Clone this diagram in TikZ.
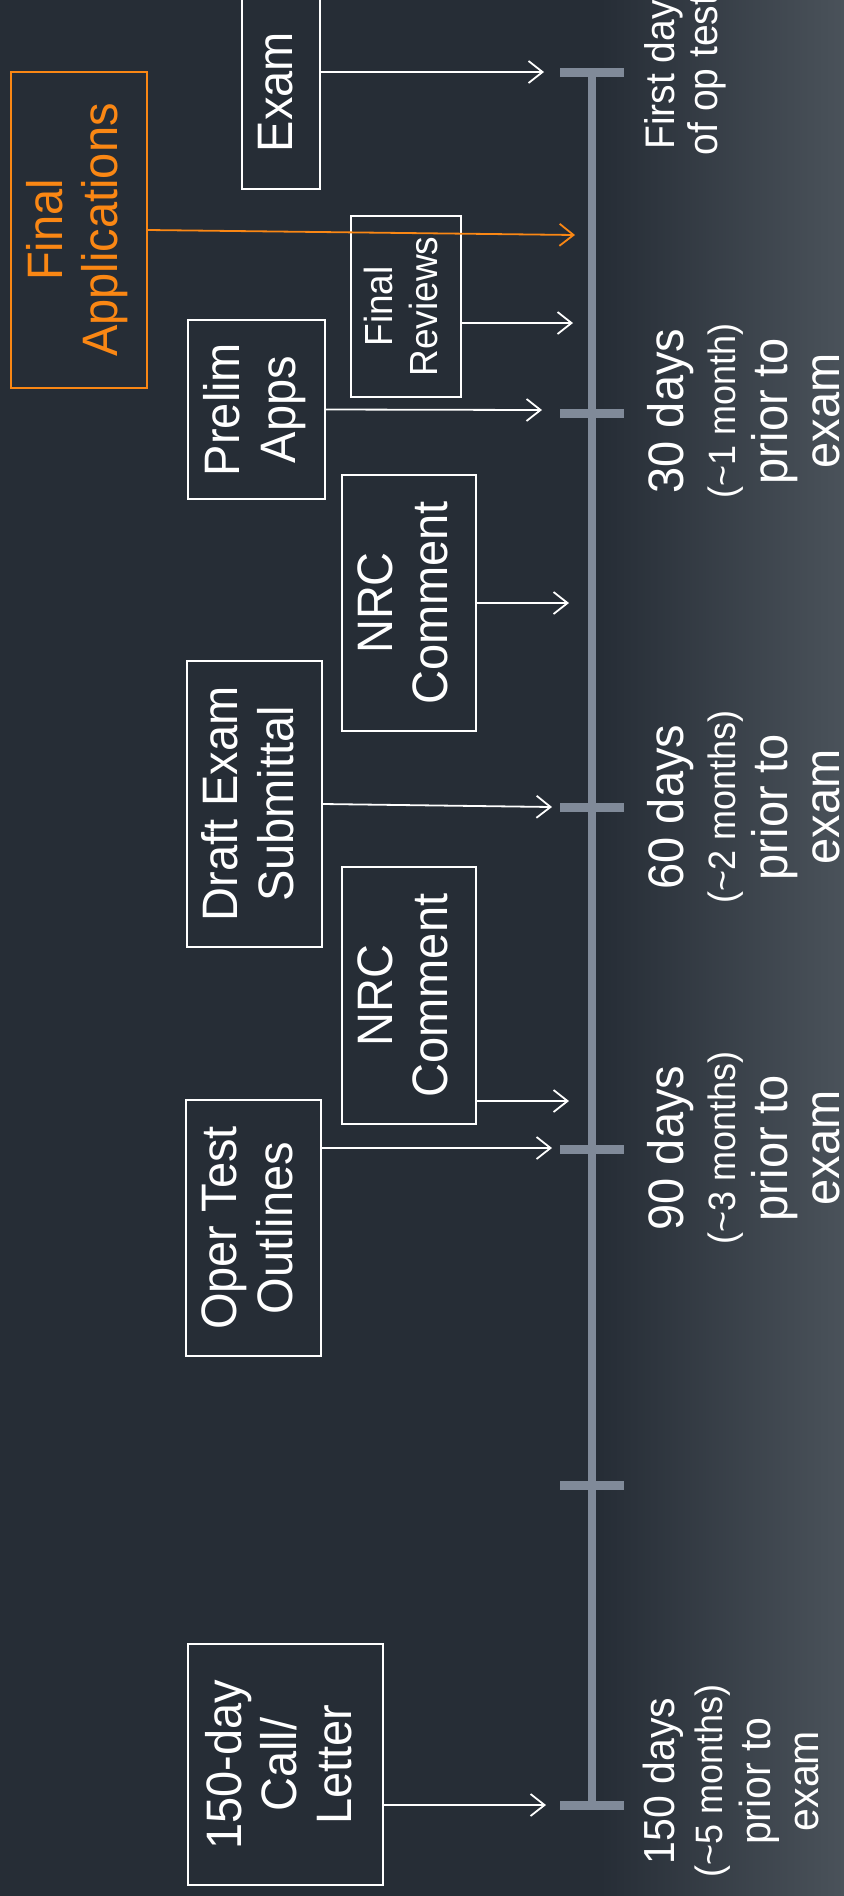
\documentclass[tikz,border=0pt]{standalone}
\usepackage{fontspec}
\setmainfont{Liberation Sans}
\usetikzlibrary{arrows.meta}

\definecolor{bgdark}{RGB}{38,45,54}
\definecolor{bglight}{RGB}{74,82,90}
\definecolor{axisgray}{RGB}{128,138,153}
\definecolor{accent}{RGB}{250,135,20}

% rotated, centred block of lines (reads bottom to top), glyphs slightly tall
\newcommand{\vtext}[1]{\rotatebox{90}{\scalebox{1}[1.06]{\begin{tabular}{@{}c@{}}#1\end{tabular}}}}
\newcommand{\paren}[1]{{\fontsize{18}{24.5}\selectfont #1}}

\tikzset{
  box/.style={draw=white, line width=1pt, text=white, inner sep=0pt,
              font=\fontsize{23.5}{26}\selectfont},
  accentbox/.style={box, draw=accent, text=accent, line width=0.8pt},
  link/.style={draw=white, line width=0.9pt,
               -{Straight Barb[length=7pt,width=11pt,line width=0.9pt]}},
  accentlink/.style={link, draw=accent},
  tickmark/.style={rectangle, fill=axisgray, inner sep=0pt,
                   minimum width=32pt, minimum height=4.5pt},
  axis/.style={draw=axisgray, line width=3.75pt},
  when/.style={text=white, inner sep=0pt,
               font=\fontsize{23.5}{24.5}\selectfont},
}

\begin{document}
\begin{tikzpicture}[x=0.5pt, y=-0.5pt]
  \useasboundingbox (0,0) rectangle (844,1896);
  % slide background with a soft gradient towards the right edge
  \fill[bgdark] (0,0) rectangle (844,1896);
  \shade[left color=bgdark, right color=bglight] (600,0) rectangle (844,1896);

  % time axis with its tick marks
  \node[tickmark] (t0) at (592,72) {};
  \node[tickmark] (t30) at (592,413) {};
  \node[tickmark] (t60) at (592,807) {};
  \node[tickmark] (t90) at (592,1149) {};
  \node[tickmark] (t120) at (592,1485) {};
  \node[tickmark] (t150) at (592,1805) {};
  \draw[axis] (t0.center) -- (t150.center);
  \node[tickmark] at (t0) {};
  \node[tickmark] at (t30) {};
  \node[tickmark] at (t60) {};
  \node[tickmark] at (t90) {};
  \node[tickmark] at (t120) {};
  \node[tickmark] at (t150) {};

  % milestone labels beside the axis
  \node[when, font=\fontsize{19.5}{20.3}\selectfont] (lExam) at (687,75)
    {\vtext{First day\\of op test}};
  \node[when] (l30) at (751,411)
    {\vtext{30 days\\\paren{(\textasciitilde1 month)}\\prior to\\exam}};
  \node[when] (l60) at (751,807)
    {\vtext{60 days\\\paren{(\textasciitilde2 months)}\\prior to\\exam}};
  \node[when] (l90) at (751,1148)
    {\vtext{90 days\\\paren{(\textasciitilde3 months)}\\prior to\\exam}};
  \node[when, font=\fontsize{20.5}{22.6}\selectfont] (l150) at (737,1781)
    {\vtext{150 days\\{\fontsize{18}{22.6}\selectfont(\textasciitilde5 months)}\\prior to\\exam}};

  % activity boxes
  \node[box, minimum width=39pt, minimum height=97pt] (exam) at (281,92)
    {\vtext{Exam}};
  \node[accentbox, minimum width=68pt, minimum height=158pt] (fa) at (79,230)
    {\vtext{Final\\Applications}};
  \node[box, font=\fontsize{18.5}{21.2}\selectfont,
        minimum width=55pt, minimum height=90.5pt] (fr) at (406,306.5)
    {\vtext{Final\\Reviews}};
  \node[box, minimum width=68.5pt, minimum height=89.5pt] (prelim) at (256.5,409.5)
    {\vtext{Prelim\\Apps}};
  \node[box, minimum width=67pt, minimum height=128pt] (nrcA) at (409,603)
    {\vtext{NRC\\Comment}};
  \node[box, minimum width=67.5pt, minimum height=143pt] (draft) at (254.5,804)
    {\vtext{Draft Exam\\Submittal}};
  \node[box, minimum width=67pt, minimum height=128.5pt] (nrcB) at (409,995.5)
    {\vtext{NRC\\Comment}};
  \node[box, minimum width=67.5pt, minimum height=128pt] (oper) at (253.5,1228)
    {\vtext{Oper Test\\Outlines}};
  \node[box, minimum width=97.5pt, minimum height=120.5pt] (call) at (285.5,1764.5)
    {\vtext{150-day\\Call/\\Letter}};

  % arrow ends next to the axis
  \coordinate (aExam) at (544,72);
  \coordinate (aFA) at (575,235);
  \coordinate (aFR) at (573,323);
  \coordinate (aPrelim) at (542,410);
  \coordinate (aNrcA) at (569,603);
  \coordinate (aDraft) at (552,807);
  \coordinate (aNrcB) at (569,1101);
  \coordinate (aOper) at (552,1148);
  \coordinate (aCall) at (546,1805);

  % connectors from each activity to its point in time
  \draw[link] (exam.east |- aExam) -- (aExam);
  \draw[link] (fr.east |- aFR) -- (aFR);
  \draw[link] (prelim.east) -- (aPrelim);
  \draw[link] (nrcA.east) -- (aNrcA);
  \draw[link] (draft.east) -- (aDraft);
  \draw[link] (nrcB.east |- aNrcB) -- (aNrcB);
  \draw[link] (oper.east |- aOper) -- (aOper);
  \draw[link] (call.east |- aCall) -- (aCall);
  \draw[accentlink] (fa.east) -- (aFA);
\end{tikzpicture}
\end{document}
